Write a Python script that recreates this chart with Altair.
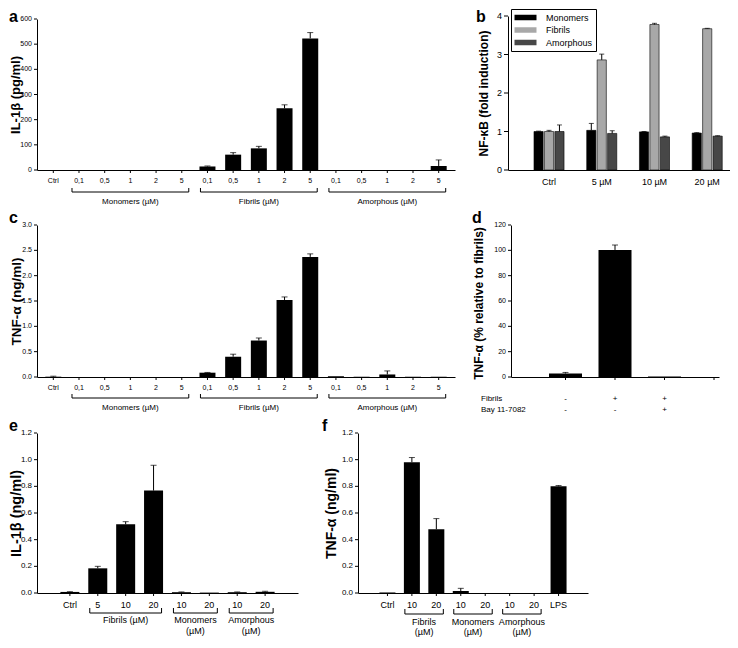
import altair as alt
import pandas as pd

FONT = "Liberation Sans"

# ---------------- data ----------------
conc_ac = ["0,1", "0,5", "1", "2", "5"]
groups_ac = ["Monomers", "Fibrils", "Amorphous"]

# a: IL-1beta (pg/ml)
a_ctrl = [0.0]
a_ctrl_err = [0.0]
a_mono = [0, 0, 0, 0, 0]
a_mono_err = [0, 0, 0, 0, 0]
a_fib = [14, 61, 86, 245, 523]
a_fib_err = [2, 8, 8, 14, 23]
a_amor = [0, 0, 0, 0, 16]
a_amor_err = [0, 0, 0, 0, 24]
a_yticks = [0, 100, 200, 300, 400, 500, 600]

# c: TNF-alpha (ng/ml)
c_ctrl = [0.006]
c_ctrl_err = [0.01]
c_mono = [0, 0, 0, 0, 0]
c_mono_err = [0, 0, 0, 0, 0]
c_fib = [0.085, 0.40, 0.72, 1.52, 2.37]
c_fib_err = [0.005, 0.05, 0.05, 0.06, 0.06]
c_amor = [0.015, 0.005, 0.05, 0.005, 0.005]
c_amor_err = [0.0, 0.0, 0.07, 0.0, 0.0]
c_yticks = [0.0, 0.5, 1.0, 1.5, 2.0, 2.5, 3.0]

# b: NF-kB fold induction
b_groups = ["Ctrl", "5 µM", "10 µM", "20 µM"]
b_series = ["Monomers", "Fibrils", "Amorphous"]
b_mono = [1.00, 1.03, 0.99, 0.96]
b_mono_err = [0.01, 0.18, 0.01, 0.01]
b_fib = [1.00, 2.86, 3.78, 3.67]
b_fib_err = [0.03, 0.15, 0.03, 0.01]
b_amor = [1.00, 0.95, 0.86, 0.88]
b_amor_err = [0.17, 0.07, 0.02, 0.01]
b_colors = ["#000000", "#a8a8a8", "#474747"]
b_yticks = [0, 1, 2, 3, 4]

# d: TNF-alpha (% relative to fibrils)
d_fibrils = ["-", "+", "+"]
d_bay = ["-", "-", "+"]
d_vals = [2.8, 100.3, 0.3]
d_err = [0.8, 3.9, 0.0]
d_yticks = [0, 20, 40, 60, 80, 100, 120]

# e: IL-1beta (ng/ml)
e_labels = ["Ctrl", "5", "10", "20", "10", "20", "10", "20"]
e_groups = ["", "Fibrils", "Fibrils", "Fibrils", "Monomers", "Monomers", "Amorphous", "Amorphous"]
e_group_text = {"Fibrils": "Fibrils (µM)", "Monomers": "Monomers\n(µM)", "Amorphous": "Amorphous\n(µM)"}
e_vals = [0.008, 0.185, 0.515, 0.768, 0.006, 0.003, 0.006, 0.009]
e_err = [0.002, 0.015, 0.02, 0.19, 0.002, 0.0, 0.002, 0.004]
ef_yticks = [0.0, 0.2, 0.4, 0.6, 0.8, 1.0, 1.2]

# f: TNF-alpha (ng/ml)
f_labels = ["Ctrl", "10", "20", "10", "20", "10", "20", "LPS"]
f_groups = ["", "Fibrils", "Fibrils", "Monomers", "Monomers", "Amorphous", "Amorphous", ""]
f_group_text = {"Fibrils": "Fibrils\n(µM)", "Monomers": "Monomers\n(µM)", "Amorphous": "Amorphous\n(µM)"}
f_vals = [0.004, 0.981, 0.478, 0.015, 0.0, 0.0, 0.0, 0.80]
f_err = [0.0, 0.035, 0.08, 0.02, 0.0, 0.0, 0.0, 0.006]

LETTER_FS = 16


# ---------------- helpers ----------------
def yaxis(title, tx, ty, tfs):
    # axis keeps the domain line and the title; ticks and labels are drawn as layers
    return alt.Axis(ticks=False, labels=False, title=title, titleX=tx, titleY=ty, titleAngle=270,
                    titleAlign="center", titleBaseline="top", titleFontSize=tfs,
                    titleFontWeight="bold", titleFont=FONT, grid=False,
                    domainColor="black", titleColor="black")


def yticks_layers(yvals, fmt, ys, lfs, tick=3):
    ydf = pd.DataFrame({"v": yvals, "s": [format(v, fmt) for v in yvals]})
    yq = alt.Y("v:Q", scale=ys)
    marks = alt.Chart(ydf).mark_rule(color="black", strokeWidth=1).encode(
        x=alt.value(-tick), x2=alt.value(0), y=yq)
    labs = alt.Chart(ydf).mark_text(font=FONT, fontSize=lfs, align="right", baseline="middle",
                                    color="black").encode(
        x=alt.value(-tick - 2), y=yq, text="s:N")
    return [marks, labs]


def letter(ch, lx, ly):
    return alt.Chart(pd.DataFrame({"t": [ch]})).mark_text(
        font=FONT, fontSize=LETTER_FS, fontWeight="bold", align="left", baseline="alphabetic",
        color="black"
    ).encode(text="t:N", x=alt.value(lx), y=alt.value(ly))


def label_text(txt, lx, ly, fs):
    return alt.Chart(pd.DataFrame({"t": [txt]})).mark_text(
        font=FONT, fontSize=fs, align="left", baseline="middle", color="black"
    ).encode(text="t:N", x=alt.value(lx), y=alt.value(ly))


def group_spans(groups, texts):
    rows = []
    for g in dict.fromkeys(x for x in groups if x):
        idx = [i for i, x in enumerate(groups) if x == g]
        rows.append({"g": g, "start": idx[0], "end": idx[-1],
                     "mid": (idx[0] + idx[-1]) / 2, "text": texts[g]})
    return pd.DataFrame(rows)


def bar_layers(labels, vals, errs, H, xdom, bar_w, cap_w, ydom, yrange, yvals, yfmt, ytitle,
               tx, ty, tfs, ylfs, xlfs, xl_off, tick_pos=None):
    n = len(vals)
    pos = list(range(n))
    df = pd.DataFrame({"pos": pos, "val": vals, "err": errs,
                       "top": [v + e for v, e in zip(vals, errs)]})
    xs = alt.Scale(domain=xdom, nice=False, zero=False)
    ys = alt.Scale(domain=ydom, range=yrange, nice=False, zero=True)
    xax = alt.Axis(ticks=False, labels=False, title=None, grid=False, domainColor="black")
    bars = alt.Chart(df).mark_bar(orient="vertical", size=bar_w, color="black").encode(
        x=alt.X("pos:Q", scale=xs, axis=xax),
        y=alt.Y("val:Q", scale=ys, axis=yaxis(ytitle, tx, ty, tfs)),
    )
    edf = df[df.err > 0]
    xq = alt.X("pos:Q", scale=xs)
    whisk = alt.Chart(edf).mark_rule(color="black", strokeWidth=1).encode(
        x=xq, y=alt.Y("val:Q", scale=ys), y2="top:Q")
    caps = alt.Chart(edf).mark_tick(color="black", orient="horizontal", size=cap_w,
                                    thickness=1).encode(
        x=xq, y=alt.Y("top:Q", scale=ys))
    tdf = pd.DataFrame({"pos": tick_pos if tick_pos is not None else pos})
    xticks = alt.Chart(tdf).mark_rule(color="black", strokeWidth=1).encode(
        x=xq, y=alt.value(H), y2=alt.value(H + 3))
    layers = [bars, whisk, caps, xticks] + yticks_layers(yvals, yfmt, ys, ylfs)
    if labels is not None:
        ldf = pd.DataFrame({"pos": pos, "lab": labels})
        layers.append(alt.Chart(ldf).mark_text(font=FONT, fontSize=xlfs, baseline="middle",
                                               align="center", color="black").encode(
            x=xq, y=alt.value(H + xl_off), text="lab:N"))
    return layers, xs


def bracket_layers(spans, xs, half, br_y, br_h, gt_y, gfs, glh):
    base = alt.Chart(spans)
    line = base.mark_rule(color="black", strokeWidth=1, xOffset=-half, x2Offset=half).encode(
        x=alt.X("start:Q", scale=xs), x2="end:Q", y=alt.value(br_y))
    left = base.mark_rule(color="black", strokeWidth=1, xOffset=-half).encode(
        x=alt.X("start:Q", scale=xs), y=alt.value(br_y - br_h), y2=alt.value(br_y))
    right = base.mark_rule(color="black", strokeWidth=1, xOffset=half).encode(
        x=alt.X("end:Q", scale=xs), y=alt.value(br_y - br_h), y2=alt.value(br_y))
    txt = base.mark_text(font=FONT, fontSize=gfs, lineHeight=glh, lineBreak="\n",
                         baseline="top", align="center", color="black").encode(
        x=alt.X("mid:Q", scale=xs), y=alt.value(gt_y), text="text:N")
    return [line, left, right, txt]


# ---------------- row 1: panels a and b ----------------
H1 = 154
labels_ac = ["Ctrl"] + conc_ac * 3
groups_list_ac = [""] + [g for g in groups_ac for _ in conc_ac]
text_ac = {g: g + " (µM)" for g in groups_ac}

WA = 418
layers_a, xs_a = bar_layers(labels_ac, a_ctrl + a_mono + a_fib + a_amor,
                            a_ctrl_err + a_mono_err + a_fib_err + a_amor_err,
                            H1, [-0.44, 15.44], 16, 6, [0, 600], [H1, 3],
                            a_yticks, "d", "IL-1β (pg/ml)",
                            -28, (H1 + 3) / 2, 13, 7, 7, 11)
layers_a += bracket_layers(group_spans(groups_list_ac, text_ac), xs_a, 7, H1 + 22, 4, H1 + 28, 8, 10)
panel_a = alt.layer(*layers_a, letter("a", -28, 6)).properties(width=WA, height=H1)

WB = 222
b_rows = []
for s, vals, errs in zip(b_series, [b_mono, b_fib, b_amor], [b_mono_err, b_fib_err, b_amor_err]):
    for g, v, e in zip(b_groups, vals, errs):
        b_rows.append({"grp": g, "series": s, "val": v, "top": v + e})
b_df = pd.DataFrame(b_rows)
xb_scale = alt.Scale(domain=b_groups, paddingInner=0.43, paddingOuter=0.32, align=0.77)
xo = alt.XOffset("series:N", sort=b_series,
                 scale=alt.Scale(domain=b_series, paddingInner=0.12, paddingOuter=0))
yb_scale = alt.Scale(domain=[0, 4], nice=False)
bars_b = alt.Chart(b_df).mark_bar(stroke="black", strokeWidth=0.6).encode(
    x=alt.X("grp:N", sort=b_groups, scale=xb_scale,
            axis=alt.Axis(title=None, ticks=False, labelFont=FONT, labelFontSize=9,
                          labelFontWeight="normal", labelPadding=7, labelAngle=0,
                          domainColor="black", labelColor="black")),
    xOffset=xo,
    y=alt.Y("val:Q", scale=yb_scale, axis=yaxis("NF-κB (fold induction)", -30, H1 / 2, 12)),
    color=alt.Color("series:N", sort=b_series,
                    scale=alt.Scale(domain=b_series, range=b_colors),
                    legend=alt.Legend(orient="none", legendX=3, legendY=-7, title=None,
                                      strokeColor="black", fillColor="white", padding=3,
                                      symbolType="M-2,-0.5H2V0.5H-2Z", symbolSize=121,
                                      symbolOffset=6, symbolStrokeWidth=0,
                                      labelFont=FONT, labelFontSize=9, labelColor="black",
                                      rowPadding=1.5, labelOffset=15)),
)
xb_plain = alt.X("grp:N", sort=b_groups, scale=xb_scale)
whisk_b = alt.Chart(b_df).mark_rule(color="black", strokeWidth=1).encode(
    x=xb_plain, xOffset=xo, y=alt.Y("val:Q", scale=yb_scale), y2="top:Q")
caps_b = alt.Chart(b_df).mark_tick(color="black", orient="horizontal", size=5, thickness=1).encode(
    x=xb_plain, xOffset=xo, y=alt.Y("top:Q", scale=yb_scale))
panel_b = alt.layer(bars_b, whisk_b, caps_b, *yticks_layers(b_yticks, "d", yb_scale, 9, 4),
                    letter("b", -32, 6)).properties(width=WB, height=H1)

# ---------------- row 2: panels c and d ----------------
H2 = 152
WC = 418
layers_c, xs_c = bar_layers(labels_ac, c_ctrl + c_mono + c_fib + c_amor,
                            c_ctrl_err + c_mono_err + c_fib_err + c_amor_err,
                            H2, [-0.44, 15.44], 16, 6, [0, 3], [H2, 0],
                            c_yticks, ".1f", "TNF-α (ng/ml)",
                            -28, H2 / 2, 13.5, 7, 7, 11)
layers_c += bracket_layers(group_spans(groups_list_ac, text_ac), xs_c, 7, H2 + 21, 4, H2 + 27, 8, 10)
panel_c = alt.layer(*layers_c, letter("c", -28, -2)).properties(width=WC, height=H2)

WD = 208
layers_d, xs_d = bar_layers(None, d_vals, d_err, H2, [-1, 3], 33, 6, [0, 120], [H2, 0],
                            d_yticks, "d", "TNF-α (% relative to fibrils)",
                            -38, H2 / 2 + 2, 12, 7, 7, 11, tick_pos=[0, 1, 2, 3])
d_tab = pd.DataFrame({"pos": list(range(len(d_vals))), "fib": d_fibrils, "bay": d_bay})
sign_fib = alt.Chart(d_tab).mark_text(font=FONT, fontSize=8, color="black").encode(
    x=alt.X("pos:Q", scale=xs_d), y=alt.value(H2 + 22), text="fib:N")
sign_bay = alt.Chart(d_tab).mark_text(font=FONT, fontSize=8, color="black").encode(
    x=alt.X("pos:Q", scale=xs_d), y=alt.value(H2 + 33), text="bay:N")
panel_d = alt.layer(*layers_d, sign_fib, sign_bay,
                    label_text("Fibrils", -30, H2 + 22, 8),
                    label_text("Bay 11-7082", -30, H2 + 33, 8),
                    letter("d", -39, -2)).properties(width=WD, height=H2)

# ---------------- row 3: panels e and f ----------------
H3 = 160
WE = 261
layers_e, xs_e = bar_layers(e_labels, e_vals, e_err, H3, [-1, 8], 19, 6, [0, 1.2], [H3, 0],
                            ef_yticks, ".1f", "IL-1β (ng/ml)",
                            -28, H3 / 2, 14.5, 8, 9, 12)
layers_e += bracket_layers(group_spans(e_groups, e_group_text), xs_e, 8, H3 + 20, 5, H3 + 23, 9, 11)
panel_e = alt.layer(*layers_e, letter("e", -28, -2)).properties(width=WE, height=H3)

WF = 230
layers_f, xs_f = bar_layers(f_labels, f_vals, f_err, H3, [-1, 8], 16, 6, [0, 1.2], [H3, 0],
                            ef_yticks, ".1f", "TNF-α (ng/ml)",
                            -34, H3 / 2, 14, 8, 9, 12)
layers_f += bracket_layers(group_spans(f_groups, f_group_text), xs_f, 7, H3 + 21, 5, H3 + 25, 9, 10)
panel_f = alt.layer(*layers_f, letter("f", -36, -2)).properties(width=WF, height=H3)

# ---------------- layout ----------------
row1 = alt.hconcat(panel_a, panel_b, spacing=21).resolve_scale(
    x="independent", y="independent", color="independent")
row2 = alt.hconcat(panel_c, panel_d, spacing=17).resolve_scale(x="independent", y="independent")
row3 = alt.hconcat(panel_e, panel_f, spacing=24).resolve_scale(x="independent", y="independent")

chart = alt.vconcat(row1, row2, row3, spacing=4).resolve_scale(
    x="independent", y="independent", color="independent"
).resolve_legend(color="independent").properties(padding=0).configure_view(stroke=None)

chart.save("out.html", embed_options={"renderer": "svg", "actions": False})
